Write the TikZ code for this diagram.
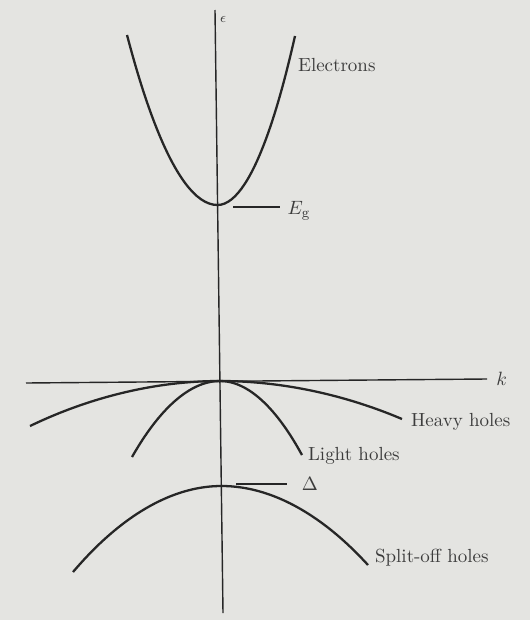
\documentclass[tikz,border=0pt]{standalone}
\definecolor{papel}{HTML}{E4E4E1}
\definecolor{tinta}{HTML}{262626}
\tikzset{
  banda/.style={line width=1.3pt, color=tinta},
  eje/.style={line width=0.8pt, color=tinta},
  rotulo/.style={anchor=west, inner sep=1pt, text=tinta!90, font=\fontsize{10.8}{13}\selectfont}
}
\begin{document}
\begin{tikzpicture}[x=0.2mm, y=-0.2mm]

\fill[papel] (0,0) rectangle (530,620);

% Ejes
	\draw[eje] (215,10) -- (223,613);
	\node[rotulo, font=\footnotesize] (e) at (218,19) {$\epsilon$};
	\draw[eje] (26,383) -- (487,379) node[rotulo, xshift=4pt] (k) {$k$};

% Banda de conduccion
	\draw[banda] (127,35) parabola bend (217.5,205) (295,36);
	\node[rotulo] (E) at (296,65) {Electrons};
	\draw[eje] (233,207) -- (280,207) node[rotulo, xshift=3pt, yshift=-2pt] (Eg) {$E_{\mathrm{g}}$};

% Bandas de valencia
	\draw[banda] (30,426) parabola bend (220,381) (402,419);
	\node[rotulo] (HH) at (409,422) {Heavy holes};

	\draw[banda] (132,457) parabola bend (220,381) (302,455);
	\node[rotulo] (LH) at (306,456) {Light holes};

	\draw[banda] (73,572) parabola bend (221.5,486) (368,565);
	\node[rotulo] (SO) at (373,558) {Split-off holes};
	\draw[eje] (236,484) -- (287,484) node[rotulo, xshift=7pt] (D) {$\Delta$};

\end{tikzpicture}
\end{document}
